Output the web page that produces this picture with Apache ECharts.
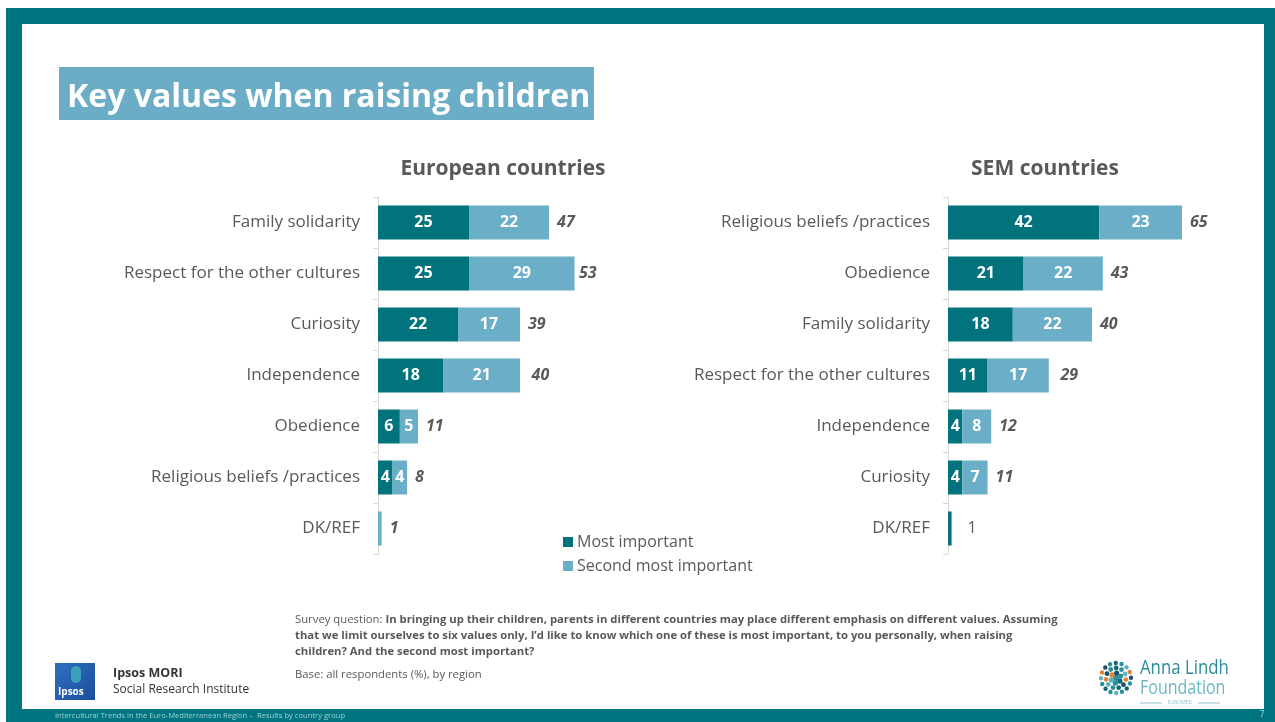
<!DOCTYPE html>
<html>
<head>
<meta charset="utf-8">
<script src="https://cdn.jsdelivr.net/npm/echarts@6/dist/echarts.min.js"></script>
<style>
  html, body { margin: 0; padding: 0; background: #ffffff; }
  #chart { width: 1275px; height: 722px; }
</style>
</head>
<body>
<div id="chart"></div>
<script>
// Key values when raising children, % of respondents by region
const seriesNames = ['Most important', 'Second most important'];

const euCategories = ['Family solidarity', 'Respect for the other cultures', 'Curiosity', 'Independence', 'Obedience', 'Religious beliefs /practices', 'DK/REF'];
const euMost   = [25, 25, 22, 18, 6, 4, 0];
const euSecond = [22, 29, 17, 21, 5, 4, 1];
const euTotal  = [47, 53, 39, 40, 11, 8, 1];

const semCategories = ['Religious beliefs /practices', 'Obedience', 'Family solidarity', 'Respect for the other cultures', 'Independence', 'Curiosity', 'DK/REF'];
const semMost   = [42, 21, 18, 11, 4, 4, 1];
const semSecond = [23, 22, 22, 17, 8, 7, 0];
const semTotal  = [65, 43, 40, 29, 12, 11, 1];

const DARK = '#00737d';
const LIGHT = '#6aafc7';
const TEAL_FRAME = '#007580';
const GREY = '#595959';
const FONT = '"Open Sans", "Noto Sans", sans-serif';

function panelSeries(idx, cats, most, second, total) {
  const inside = {
    show: true, position: 'inside', color: '#ffffff', fontFamily: FONT,
    fontWeight: 'bold', fontSize: 16,
    formatter: p => (p.value >= 2 ? String(p.value) : '')
  };
  return [
    {
      name: seriesNames[0], type: 'bar', xAxisIndex: idx, yAxisIndex: idx,
      stack: 'vals' + idx, barWidth: 34, itemStyle: { color: DARK },
      label: inside, data: most
    },
    {
      name: seriesNames[1], type: 'bar', xAxisIndex: idx, yAxisIndex: idx,
      stack: 'vals' + idx, barWidth: 34, itemStyle: { color: LIGHT },
      label: inside, data: second
    },
    {
      // transparent full-length bar carrying the combined total label
      name: 'total' + idx, type: 'bar', xAxisIndex: idx, yAxisIndex: idx,
      barWidth: 34, barGap: '-100%', silent: true, z: 1,
      itemStyle: { color: 'rgba(0,0,0,0)' },
      label: {
        show: true, position: 'right', distance: 8, color: GREY,
        fontFamily: FONT, fontSize: 16, fontWeight: 'bold', fontStyle: 'italic'
      },
      data: total.map((v, i) => {
        // the SEM "DK/REF" total is set in plain type
        if (idx === 1 && cats[i] === 'DK/REF') {
          return { value: v, label: { fontStyle: 'normal', fontWeight: 'normal', distance: 16, fontSize: 16 } };
        }
        return v;
      })
    }
  ];
}

function catAxis(idx, cats) {
  return {
    type: 'category', gridIndex: idx, data: cats, inverse: true,
    axisLine: { show: true, lineStyle: { color: '#d9d9d9', width: 1 } },
    axisTick: { show: true, length: 5, lineStyle: { color: '#d9d9d9' } },
    axisLabel: { color: GREY, fontFamily: FONT, fontSize: 17, margin: 18 }
  };
}

function valAxis(idx, max) {
  return {
    type: 'value', gridIndex: idx, min: 0, max: max, show: false,
    splitLine: { show: false }
  };
}

// logo dots for the foundation mark
function dotRing() {
  const cx = 1116, cy = 678;
  const palette = ['#2a8f9a', '#1d4e6e', '#e3843a', '#5fb3c0', '#2a8f9a', '#0f6a78'];
  const rings = [[0, 1, 3], [5, 6, 2.6], [10, 11, 2.4], [15, 16, 2.2]];
  const out = [];
  let k = 0;
  rings.forEach(([r, n, s]) => {
    for (let j = 0; j < n; j++) {
      const a = (j / n) * Math.PI * 2 + r * 0.13;
      out.push({
        type: 'circle',
        shape: { cx: cx + r * Math.cos(a), cy: cy + r * Math.sin(a), r: s },
        style: { fill: palette[(k++ * 5) % palette.length] }
      });
    }
  });
  return out;
}

const chart = echarts.init(document.getElementById('chart'), null, { renderer: 'canvas' });

const option = {
  animation: false,
  backgroundColor: '#ffffff',
  textStyle: { fontFamily: FONT },
  grid: [
    { left: 378, top: 197, width: 364, height: 357, containLabel: false },
    { left: 948, top: 197, width: 288, height: 357, containLabel: false }
  ],
  xAxis: [valAxis(0, 100), valAxis(1, 80)],
  yAxis: [catAxis(0, euCategories), catAxis(1, semCategories)],
  legend: {
    data: seriesNames, orient: 'vertical', left: 558, top: 529,
    itemWidth: 10, itemHeight: 10, itemGap: 8, icon: 'rect',
    textStyle: { color: GREY, fontFamily: FONT, fontSize: 16, padding: [0, 0, 0, -1] },
    selectedMode: false
  },
  series: [
    ...panelSeries(0, euCategories, euMost, euSecond, euTotal),
    ...panelSeries(1, semCategories, semMost, semSecond, semTotal)
  ],
  graphic: [
    // slide frame
    { type: 'rect', z: -10, shape: { x: 6, y: 8, width: 1269, height: 714 }, style: { fill: TEAL_FRAME } },
    { type: 'rect', z: -9, shape: { x: 22, y: 24, width: 1242, height: 685 }, style: { fill: '#ffffff' } },
    // heading
    { type: 'rect', shape: { x: 59, y: 67, width: 535, height: 53 }, style: { fill: '#6badc6' } },
    { type: 'text', x: 67, y: 98, style: { text: 'Key values when raising children', fill: '#ffffff', font: 'bold 32px ' + FONT, textVerticalAlign: 'middle' } },
    // panel headings
    { type: 'text', x: 503, y: 169, style: { text: 'European countries', fill: GREY, font: 'bold 21px ' + FONT, textAlign: 'center', textVerticalAlign: 'middle' } },
    { type: 'text', x: 1045, y: 169, style: { text: 'SEM countries', fill: GREY, font: 'bold 21px ' + FONT, textAlign: 'center', textVerticalAlign: 'middle' } },
    // survey note
    {
      type: 'text', x: 295, y: 612,
      style: {
        text: '{r|Survey question: }{b|In bringing up their children, parents in different countries may place different emphasis on different values. Assuming}\n{b|that we limit ourselves to six values only, I\u2019d like to know which one of these is most important, to you personally, when raising}\n{b|children? And the second most important?}',
        rich: {
          r: { fill: GREY, font: '11.3px ' + FONT, lineHeight: 16 },
          b: { fill: GREY, font: 'bold 11.3px ' + FONT, lineHeight: 16 }
        }
      }
    },
    { type: 'text', x: 295, y: 675, style: { text: 'Base: all respondents (%), by region', fill: GREY, font: '11.3px ' + FONT, textVerticalAlign: 'middle' } },
    // Ipsos mark
    {
      type: 'rect', shape: { x: 55, y: 663, width: 40, height: 37 },
      style: { fill: new echarts.graphic.LinearGradient(0, 0, 1, 1, [{ offset: 0, color: '#2f6fc0' }, { offset: 1, color: '#1b4f9c' }]) }
    },
    { type: 'rect', shape: { x: 71, y: 666, width: 10, height: 17, r: 5 }, style: { fill: '#3aa2b8' } },
    { type: 'text', x: 58, y: 692, style: { text: 'Ipsos', fill: '#ffffff', font: 'bold 10px ' + FONT, textVerticalAlign: 'middle' } },
    { type: 'text', x: 113, y: 673, style: { text: 'Ipsos MORI', fill: '#333333', font: 'bold 12.5px ' + FONT, textVerticalAlign: 'middle' } },
    { type: 'text', x: 113, y: 690, style: { text: 'Social Research Institute', fill: '#333333', font: '12px ' + FONT, textVerticalAlign: 'middle' } },
    // foundation mark
    ...dotRing(),
    { type: 'text', x: 1140, y: 668, scaleX: 0.84, style: { text: 'Anna Lindh', fill: '#2a8c98', font: '20px ' + FONT, textVerticalAlign: 'middle' } },
    { type: 'text', x: 1140, y: 688, scaleX: 0.8, style: { text: 'Foundation', fill: '#6bb8c4', font: '20px ' + FONT, textVerticalAlign: 'middle' } },
    { type: 'line', shape: { x1: 1140, y1: 703, x2: 1162, y2: 703 }, style: { stroke: '#8cc4cc', lineWidth: 1 } },
    { type: 'line', shape: { x1: 1198, y1: 703, x2: 1220, y2: 703 }, style: { stroke: '#8cc4cc', lineWidth: 1 } },
    { type: 'text', x: 1180, y: 703, style: { text: 'EUROMED', fill: '#8cc4cc', font: '5px ' + FONT, textAlign: 'center', textVerticalAlign: 'middle' } },
    // footer
    { type: 'text', x: 55, y: 716, style: { text: 'Intercultural Trends in the Euro-Mediterranean Region \u2013  Results by country group', fill: '#9fd0d6', font: '7.6px ' + FONT, textVerticalAlign: 'middle' } },
    { type: 'text', x: 1262, y: 714, style: { text: '7', fill: '#9fd0d6', font: '9px ' + FONT, textAlign: 'center', textVerticalAlign: 'middle' } }
  ]
};

chart.setOption(option);
</script>
</body>
</html>
